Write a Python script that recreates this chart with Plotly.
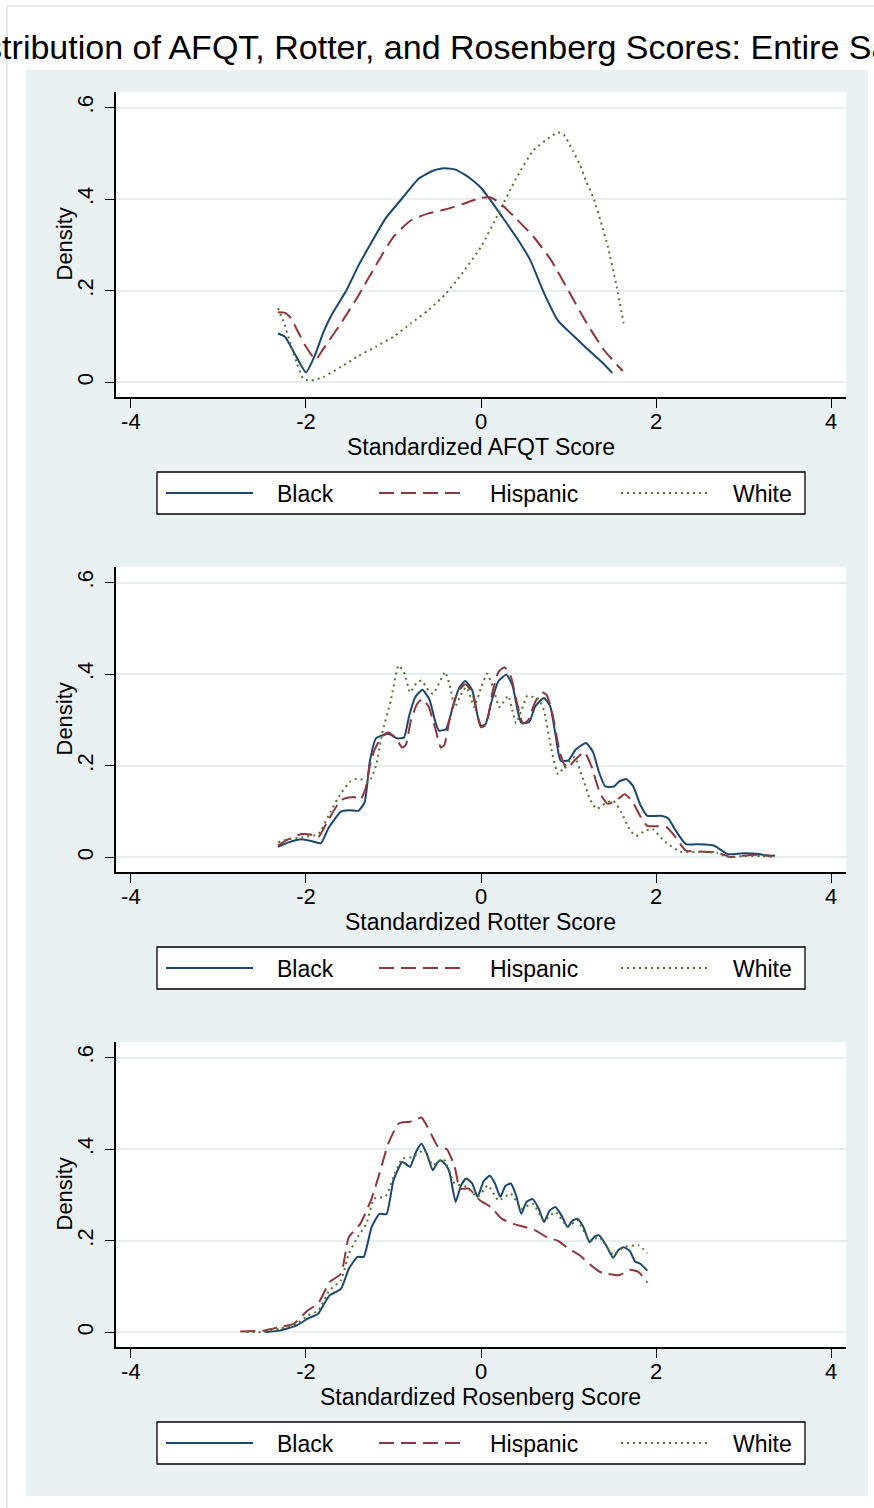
import plotly.graph_objects as go

# ---------------- data ----------------
groups = ["Black", "Hispanic", "White"]
panel_titles = ["Standardized AFQT Score", "Standardized Rotter Score", "Standardized Rosenberg Score"]
x_ticks = [-4, -2, 0, 2, 4]
y_ticks = [0, 0.2, 0.4, 0.6]
y_tick_text = ["0", ".2", ".4", ".6"]

afqt_black_x = [-2.32, -2.24, -2.12, -2.0, -1.9, -1.8, -1.7, -1.54, -1.4, -1.28, -1.09, -0.9, -0.71, -0.55, -0.45, -0.38, -0.3, -0.2, -0.1, 0.0, 0.1, 0.24, 0.4, 0.56, 0.72, 0.88, 1.0, 1.2, 1.4, 1.5]
afqt_black_y = [0.107, 0.100, 0.060, 0.022, 0.058, 0.110, 0.150, 0.200, 0.255, 0.296, 0.358, 0.402, 0.445, 0.462, 0.467, 0.467, 0.465, 0.455, 0.442, 0.425, 0.400, 0.362, 0.318, 0.268, 0.195, 0.135, 0.112, 0.076, 0.041, 0.021]

afqt_hisp_x = [-2.32, -2.24, -2.17, -2.1, -2.0, -1.89, -1.8, -1.6, -1.4, -1.2, -1.0, -0.8, -0.6, -0.4, -0.2, 0.0, 0.1, 0.2, 0.4, 0.6, 0.8, 1.0, 1.2, 1.4, 1.62]
afqt_hisp_y = [0.153, 0.152, 0.140, 0.114, 0.078, 0.050, 0.074, 0.129, 0.190, 0.256, 0.318, 0.354, 0.369, 0.378, 0.390, 0.403, 0.404, 0.394, 0.358, 0.318, 0.267, 0.200, 0.132, 0.072, 0.025]

afqt_white_x = [-2.32, -2.25, -2.17, -2.1, -2.03, -1.95, -1.8, -1.6, -1.4, -1.2, -1.0, -0.8, -0.6, -0.4, -0.2, 0.0, 0.2, 0.4, 0.6, 0.8, 0.88, 0.95, 1.05, 1.13, 1.2, 1.29, 1.37, 1.45, 1.55, 1.63]
afqt_white_y = [0.162, 0.130, 0.080, 0.040, 0.008, 0.004, 0.012, 0.034, 0.058, 0.078, 0.100, 0.129, 0.158, 0.194, 0.242, 0.296, 0.369, 0.445, 0.507, 0.537, 0.546, 0.540, 0.505, 0.475, 0.440, 0.400, 0.350, 0.296, 0.209, 0.129]

rotter_black_x = [-2.32, -2.2, -2.05, -1.92, -1.83, -1.74, -1.6, -1.5, -1.4, -1.33, -1.27, -1.2, -1.06, -0.96, -0.88, -0.82, -0.75, -0.67, -0.59, -0.52, -0.48, -0.4, -0.32, -0.25, -0.18, -0.1, -0.04, 0.0, 0.05, 0.12, 0.2, 0.29, 0.36, 0.42, 0.46, 0.55, 0.62, 0.72, 0.79, 0.85, 0.91, 1.0, 1.08, 1.2, 1.28, 1.35, 1.42, 1.52, 1.58, 1.66, 1.74, 1.82, 1.9, 2.05, 2.14, 2.22, 2.34, 2.5, 2.66, 2.76, 2.82, 3.0, 3.15, 3.25, 3.36]
rotter_black_y = [0.023, 0.033, 0.040, 0.035, 0.031, 0.065, 0.100, 0.103, 0.102, 0.120, 0.210, 0.260, 0.270, 0.260, 0.262, 0.310, 0.350, 0.366, 0.345, 0.295, 0.277, 0.280, 0.330, 0.370, 0.385, 0.365, 0.310, 0.288, 0.290, 0.340, 0.385, 0.399, 0.375, 0.320, 0.294, 0.295, 0.330, 0.348, 0.330, 0.270, 0.211, 0.212, 0.235, 0.250, 0.230, 0.185, 0.155, 0.155, 0.166, 0.171, 0.155, 0.115, 0.091, 0.091, 0.085, 0.060, 0.029, 0.029, 0.026, 0.014, 0.007, 0.009, 0.008, 0.005, 0.004]

rotter_hisp_x = [-2.32, -2.2, -2.05, -1.95, -1.86, -1.75, -1.64, -1.57, -1.45, -1.38, -1.32, -1.27, -1.22, -1.14, -1.06, -0.98, -0.9, -0.86, -0.8, -0.73, -0.67, -0.6, -0.52, -0.46, -0.42, -0.36, -0.27, -0.18, -0.1, -0.03, 0.0, 0.06, 0.13, 0.2, 0.27, 0.34, 0.42, 0.48, 0.54, 0.62, 0.7, 0.75, 0.82, 0.9, 0.98, 1.06, 1.18, 1.26, 1.36, 1.45, 1.55, 1.64, 1.72, 1.82, 1.9, 2.02, 2.12, 2.22, 2.34, 2.5, 2.7, 2.85, 3.0, 3.17, 3.33]
rotter_hisp_y = [0.026, 0.040, 0.051, 0.050, 0.044, 0.080, 0.115, 0.128, 0.132, 0.125, 0.150, 0.200, 0.233, 0.262, 0.273, 0.262, 0.240, 0.245, 0.300, 0.335, 0.346, 0.330, 0.280, 0.240, 0.245, 0.300, 0.360, 0.378, 0.360, 0.300, 0.284, 0.290, 0.360, 0.405, 0.415, 0.395, 0.330, 0.292, 0.300, 0.340, 0.360, 0.355, 0.310, 0.230, 0.193, 0.210, 0.230, 0.200, 0.140, 0.117, 0.125, 0.138, 0.125, 0.090, 0.069, 0.068, 0.066, 0.045, 0.015, 0.013, 0.011, 0.001, 0.004, 0.006, 0.002]

rotter_white_x = [-2.32, -2.2, -2.05, -1.86, -1.72, -1.6, -1.5, -1.44, -1.35, -1.28, -1.2, -1.13, -1.03, -0.94, -0.87, -0.81, -0.74, -0.68, -0.62, -0.55, -0.48, -0.41, -0.35, -0.3, -0.23, -0.17, -0.12, -0.08, 0.0, 0.07, 0.14, 0.21, 0.26, 0.31, 0.36, 0.4, 0.46, 0.53, 0.6, 0.66, 0.72, 0.8, 0.88, 0.98, 1.07, 1.15, 1.25, 1.32, 1.42, 1.51, 1.6, 1.7, 1.77, 1.87, 1.96, 2.1, 2.27, 2.5, 2.7, 2.82, 3.0, 3.2, 3.33]
rotter_white_y = [0.033, 0.040, 0.044, 0.051, 0.100, 0.140, 0.165, 0.171, 0.170, 0.165, 0.200, 0.270, 0.343, 0.419, 0.400, 0.360, 0.380, 0.386, 0.370, 0.357, 0.380, 0.405, 0.370, 0.328, 0.355, 0.372, 0.350, 0.328, 0.370, 0.401, 0.370, 0.328, 0.340, 0.353, 0.320, 0.293, 0.320, 0.353, 0.350, 0.346, 0.320, 0.240, 0.182, 0.205, 0.219, 0.180, 0.125, 0.106, 0.118, 0.124, 0.100, 0.060, 0.047, 0.058, 0.062, 0.035, 0.013, 0.012, 0.010, 0.001, 0.003, 0.003, 0.002]

rosen_black_x = [-2.46, -2.3, -2.11, -1.98, -1.86, -1.8, -1.73, -1.6, -1.51, -1.41, -1.34, -1.25, -1.16, -1.08, -1.0, -0.9, -0.84, -0.81, -0.74, -0.68, -0.62, -0.55, -0.5, -0.46, -0.4, -0.36, -0.29, -0.23, -0.17, -0.1, -0.04, 0.03, 0.1, 0.16, 0.22, 0.28, 0.34, 0.4, 0.46, 0.52, 0.59, 0.66, 0.72, 0.78, 0.85, 0.92, 0.99, 1.04, 1.1, 1.17, 1.24, 1.3, 1.35, 1.43, 1.51, 1.57, 1.63, 1.7, 1.76, 1.82, 1.9]
rosen_black_y = [0.001, 0.004, 0.015, 0.030, 0.041, 0.060, 0.081, 0.095, 0.139, 0.165, 0.165, 0.230, 0.259, 0.258, 0.332, 0.372, 0.365, 0.361, 0.395, 0.412, 0.390, 0.354, 0.370, 0.376, 0.365, 0.350, 0.285, 0.320, 0.336, 0.325, 0.296, 0.330, 0.342, 0.325, 0.296, 0.320, 0.325, 0.300, 0.259, 0.285, 0.291, 0.270, 0.241, 0.265, 0.274, 0.255, 0.230, 0.243, 0.248, 0.230, 0.197, 0.210, 0.212, 0.190, 0.163, 0.180, 0.186, 0.178, 0.155, 0.150, 0.135]

rosen_hisp_x = [-2.75, -2.49, -2.3, -2.14, -1.98, -1.86, -1.73, -1.6, -1.51, -1.38, -1.25, -1.16, -1.06, -0.94, -0.81, -0.74, -0.68, -0.59, -0.49, -0.39, -0.3, -0.24, -0.14, -0.01, 0.11, 0.24, 0.37, 0.5, 0.62, 0.75, 0.88, 1.0, 1.13, 1.26, 1.36, 1.45, 1.58, 1.7, 1.8, 1.9]
rosen_hisp_y = [0.002, 0.004, 0.012, 0.019, 0.048, 0.063, 0.110, 0.128, 0.208, 0.237, 0.292, 0.347, 0.412, 0.456, 0.460, 0.465, 0.469, 0.441, 0.405, 0.400, 0.361, 0.314, 0.314, 0.288, 0.274, 0.248, 0.237, 0.230, 0.223, 0.208, 0.200, 0.183, 0.168, 0.146, 0.132, 0.128, 0.125, 0.137, 0.132, 0.109]

rosen_white_x = [-2.68, -2.49, -2.3, -2.11, -1.98, -1.86, -1.73, -1.6, -1.51, -1.41, -1.31, -1.22, -1.09, -1.0, -0.9, -0.78, -0.65, -0.55, -0.43, -0.3, -0.17, -0.04, 0.08, 0.2, 0.34, 0.46, 0.59, 0.72, 0.85, 0.99, 1.1, 1.24, 1.35, 1.51, 1.63, 1.8, 1.9]
rosen_white_y = [0.001, 0.001, 0.008, 0.019, 0.037, 0.048, 0.092, 0.114, 0.172, 0.208, 0.237, 0.292, 0.297, 0.339, 0.379, 0.383, 0.398, 0.365, 0.379, 0.325, 0.318, 0.296, 0.321, 0.288, 0.303, 0.270, 0.281, 0.245, 0.263, 0.230, 0.245, 0.201, 0.208, 0.170, 0.186, 0.190, 0.173]

# ---------------- styling ----------------
W, H = 874, 1508
FONT = "Liberation Sans, Arial, sans-serif"
BG = "#EAF1F3"
GRID = "#E6EEF1"
colors = {"Black": "#1A476F", "Hispanic": "#90353B", "White": "#55752F"}
dashes = {"Black": "solid", "Hispanic": "15px,7px", "White": "2px,4px"}

def fx(px):
    return px / W

def fy(py):
    return 1 - py / H

panel_top = [92, 567, 1042]
panel_h = 305
plot_left, plot_right = 116, 846

series = [
    [(afqt_black_x, afqt_black_y), (afqt_hisp_x, afqt_hisp_y), (afqt_white_x, afqt_white_y)],
    [(rotter_black_x, rotter_black_y), (rotter_hisp_x, rotter_hisp_y), (rotter_white_x, rotter_white_y)],
    [(rosen_black_x, rosen_black_y), (rosen_hisp_x, rosen_hisp_y), (rosen_white_x, rosen_white_y)],
]

fig = go.Figure()
shapes = []
annotations = []

# page frame and graph region
shapes.append(dict(type="rect", xref="paper", yref="paper", layer="below",
                   x0=fx(7), x1=fx(W + 30), y0=fy(H + 30), y1=fy(6),
                   line=dict(color="#E3EBEE", width=2), fillcolor="white"))
shapes.append(dict(type="rect", xref="paper", yref="paper", layer="below",
                   x0=fx(26), x1=fx(868), y0=fy(1496), y1=fy(70),
                   line=dict(width=0), fillcolor=BG))

for k in range(3):
    top = panel_top[k]
    bot = top + panel_h
    ax = "" if k == 0 else str(k + 1)
    for g, (xs, ys) in zip(groups, series[k]):
        fig.add_trace(go.Scatter(
            x=xs, y=ys, mode="lines", name=g, showlegend=False,
            xaxis="x" + ax, yaxis="y" + ax,
            line=dict(color=colors[g], width=2, dash=dashes[g],
                      shape="spline", smoothing=0.5),
            hoverinfo="skip"))
    fig.layout["xaxis" + ax] = dict(
        domain=[fx(plot_left), fx(plot_right)], anchor="y" + ax,
        range=[-4.17, 4.17], tickvals=x_ticks, ticktext=[str(v) for v in x_ticks],
        ticks="outside", ticklen=9, tickwidth=1.3, tickcolor="black",
        showline=True, linecolor="black", linewidth=1.5,
        showgrid=False, zeroline=False,
        tickfont=dict(family=FONT, size=22, color="black"), ticklabelstandoff=-5)
    fig.layout["yaxis" + ax] = dict(
        domain=[fy(bot), fy(top)], anchor="x" + ax,
        range=[-0.0317, 0.6339], tickvals=y_ticks, ticktext=y_tick_text, tickangle=-90,
        ticks="outside", ticklen=9, tickwidth=1.3, tickcolor="black",
        showline=True, linecolor="black", linewidth=1.5,
        showgrid=True, gridcolor=GRID, gridwidth=2, zeroline=False,
        tickfont=dict(family=FONT, size=22, color="black"), ticklabelstandoff=3)
    # white plot region
    shapes.append(dict(type="rect", xref="paper", yref="paper", layer="below",
                       x0=fx(plot_left), x1=fx(plot_right), y0=fy(bot), y1=fy(top),
                       line=dict(width=0), fillcolor="white"))
    # axis titles
    annotations.append(dict(text=panel_titles[k], xref="paper", yref="paper",
                            x=fx((plot_left + plot_right) / 2), y=fy(top + 355),
                            xanchor="center", yanchor="middle", showarrow=False,
                            font=dict(family=FONT, size=23, color="black")))
    annotations.append(dict(text="Density", xref="paper", yref="paper", textangle=-90,
                            x=fx(64), y=fy(top + panel_h / 2),
                            xanchor="center", yanchor="middle", showarrow=False,
                            font=dict(family=FONT, size=22, color="black")))
    # legend box
    lt = 472 + 475 * k
    shapes.append(dict(type="rect", xref="paper", yref="paper", layer="above",
                       x0=fx(157), x1=fx(805), y0=fy(lt + 42), y1=fy(lt),
                       line=dict(color="black", width=1.3), fillcolor="white"))
    key_x = [166, 379, 621]
    lab_x = [277, 490, 733]
    for g, kx, lx in zip(groups, key_x, lab_x):
        shapes.append(dict(type="line", xref="paper", yref="paper", layer="above",
                           x0=fx(kx), x1=fx(kx + 87), y0=fy(lt + 21), y1=fy(lt + 21),
                           line=dict(color=colors[g], width=2, dash=dashes[g])))
        annotations.append(dict(text=g, xref="paper", yref="paper",
                                x=fx(lx - 2), y=fy(lt + 22), xanchor="left", yanchor="middle",
                                showarrow=False, font=dict(family=FONT, size=23, color="black")))

annotations.append(dict(text="Distribution of AFQT, Rotter, and Rosenberg Scores: Entire Sample",
                        xref="paper", yref="paper", x=fx(458), y=fy(47),
                        xanchor="center", yanchor="middle", showarrow=False,
                        font=dict(family=FONT, size=34, color="black")))

fig.update_layout(
    width=W, height=H, autosize=False,
    margin=dict(l=0, r=0, t=0, b=0),
    paper_bgcolor="white", plot_bgcolor="white",
    showlegend=False, shapes=shapes, annotations=annotations,
)

fig.write_html("out.html", config={"displayModeBar": False},
               post_script="document.body.style.margin='0px';")
